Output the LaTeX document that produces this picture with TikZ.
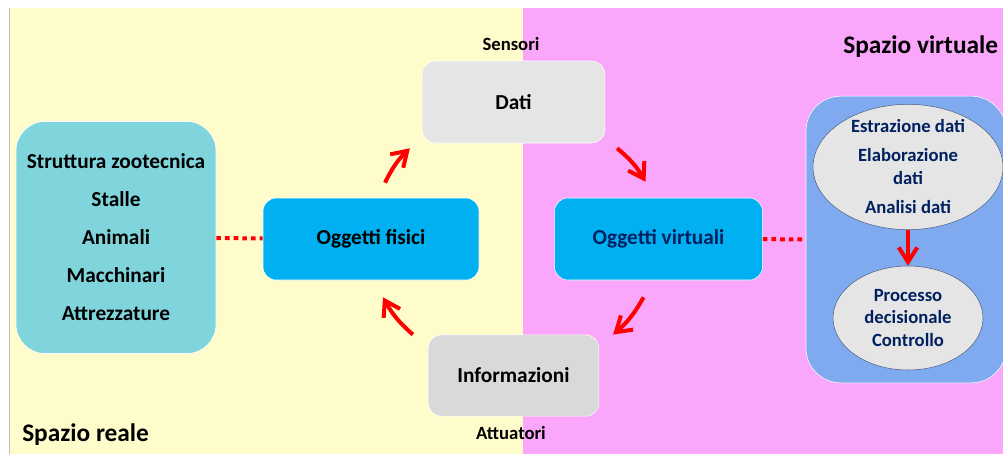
\documentclass[tikz,border=0pt]{standalone}
\usepackage{fontspec}
\setmainfont{Carlito}
\usepackage{tikz}
\usetikzlibrary{arrows.meta,positioning,shapes.geometric}

\definecolor{realbg}{RGB}{255,252,204}
\definecolor{virtbg}{RGB}{250,166,250}
\definecolor{tealbox}{RGB}{128,212,220}
\definecolor{objblue}{RGB}{0,176,240}
\definecolor{cornblue}{RGB}{127,170,240}
\definecolor{lightgrey}{RGB}{229,229,229}
\definecolor{midgrey}{RGB}{217,217,217}
\definecolor{navytext}{RGB}{0,32,96}
\definecolor{ellborder}{RGB}{80,96,130}

\begin{document}
\begin{tikzpicture}[x=0.75pt, y=-0.75pt, font=\bfseries, inner sep=0pt]
			\tikzset{rect/.style={rounded corners=10pt, draw=white, thin, minimum height=61.5pt}}
			\tikzset{objrect/.style={rect, fill=objblue, font=\fontsize{16}{19}\selectfont\bfseries}}
			\tikzset{greyrect/.style={rect, font=\fontsize{16}{19}\selectfont\bfseries}}
			\tikzset{oval/.style={ellipse, draw=ellborder, thin, fill=lightgrey}}
			\tikzset{ovaltext/.style={align=center, text=navytext, font=\fontsize{14}{17.25}\selectfont\bfseries}}
			\tikzset{dotline/.style={red, line width=3pt, dash pattern=on 3.5pt off 3pt}}
			\tikzset{redarrow/.style={red, line width=3pt, -{Straight Barb[length=11pt, width=14pt]}}}
			% Colors: realbg, virtbg, tealbox, objblue, cornblue...

			\useasboundingbox (0,0) rectangle (1003,454);
			% Background
			\fill[white] (0,0) rectangle (1003,454);
			\fill[realbg] (9,8) rectangle (523,454);
			\fill[virtbg] (523,8) rectangle (1003,454);
			\draw[black!25, very thin] (9,8) -- (9,454);

			% Boxes
			\node[objrect, minimum width=162pt] (fisici) at (371,239) {Oggetti fisici};
			\node[objrect, minimum width=156pt, text=navytext] (virtuali) [right=56.25pt of fisici] {Oggetti virtuali};
			\node[greyrect, fill=lightgrey, minimum width=137pt] (dati) at (513.5,102) {Dati};
			\node[greyrect, fill=midgrey, minimum width=128pt, minimum height=61pt] (info) at (513.5,375.5) {Informazioni};
			\node[rect, fill=tealbox, rounded corners=22pt, minimum width=150pt, minimum height=174pt, align=center,
				font=\fontsize{16}{28.5}\selectfont\bfseries] (struttura) at (116,237.5)
				{Struttura zootecnica\\Stalle\\Animali\\Macchinari\\Attrezzature};
			\node[rect, fill=cornblue, rounded corners=26pt, minimum width=150pt, minimum height=215pt] (spaziobox) at (906,239.5) {};

			% Ellipses
			\node[oval, minimum width=142.5pt, minimum height=94pt] (estrazione) at (908,167) {};
			\node[ovaltext] (estrazionetxt) at (estrazione.center) {Estrazione dati\\[4.5pt]Elaborazione\\dati\\[4.5pt]Analisi dati};
			\node[oval, minimum width=112.5pt, minimum height=78pt] (processo) at (908,318) {};
			\node[ovaltext, font=\fontsize{14}{17}\selectfont\bfseries] (processotxt) at (processo.center) {Processo\\decisionale\\Controllo};

			% Labels
			\node[font=\fontsize{14}{16}\selectfont\bfseries] (sensori) at (511,44) {Sensori};
			\node[font=\fontsize{14}{16}\selectfont\bfseries] (attuatori) at (511,433) {Attuatori};
			\node[font=\fontsize{19}{23}\selectfont\bfseries, anchor=west] (reale) at (22,435) {Spazio reale};
			\node[font=\fontsize{19}{23}\selectfont\bfseries, anchor=west] (virtuale) at (843,47) {Spazio virtuale};

			% Transitions
			\draw[dotline] (struttura) -- (fisici);
			\draw[dotline] (virtuali) -- (spaziobox);
			\draw[redarrow] (estrazione) -- (processo);
			\path
				([shift={(14,-15)}]fisici.north)	edge [redarrow, bend left=10]	([shift={(-12,5)}]dati.south west)
				([shift={(12,5)}]dati.south east)	edge [redarrow, bend left=10]	([shift={(-13,-16)}]virtuali.north)
				([shift={(-15,17)}]virtuali.south)	edge [redarrow, bend left=10]	([shift={(14,0)}]info.north east)
				([shift={(-15,0)}]info.north west)	edge [redarrow, bend left=10]	([shift={(12,17)}]fisici.south)
				;
	\end{tikzpicture}
\end{document}
